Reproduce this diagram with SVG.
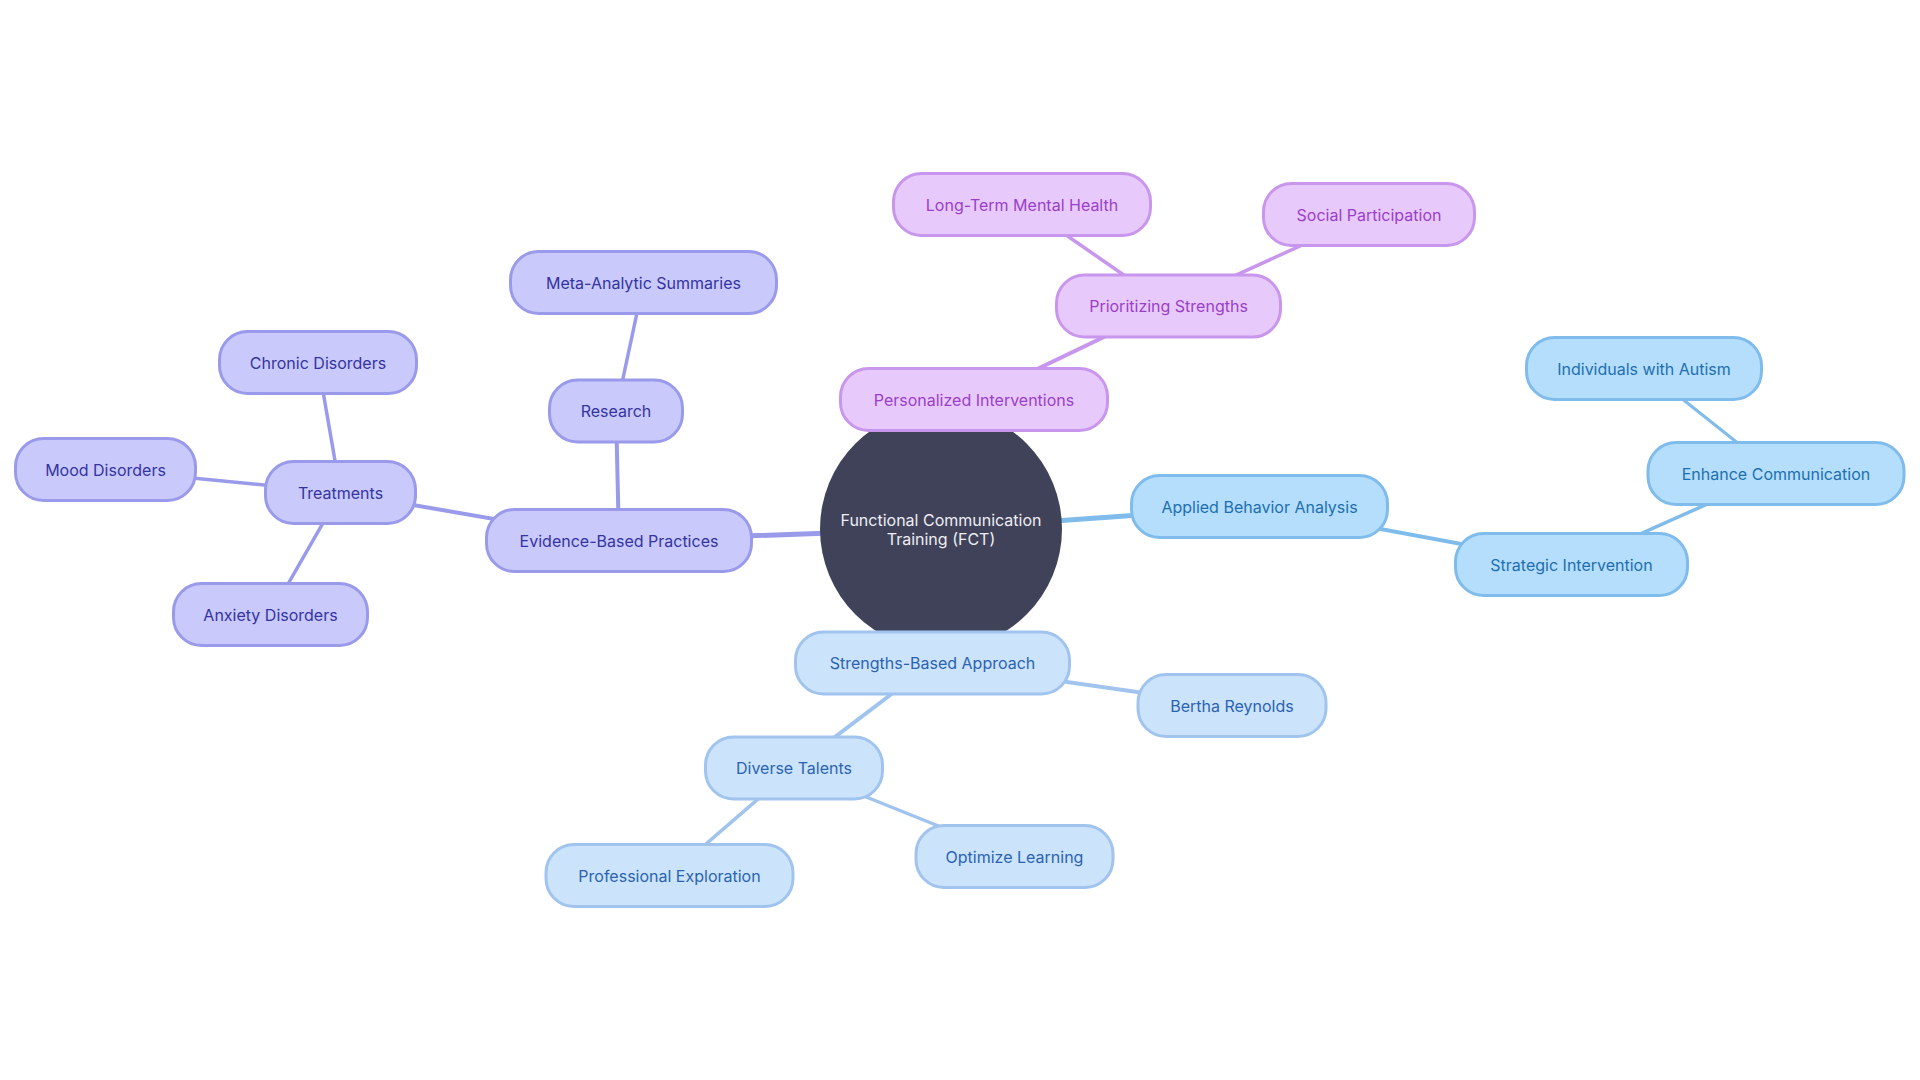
<svg xmlns="http://www.w3.org/2000/svg" width="1920" height="1080" viewBox="0 0 1920 1080">
<style>
text{font-family:Inter,"Noto Sans",sans-serif;font-size:16px;text-anchor:middle;dominant-baseline:central}
.n rect{stroke-width:3}
.a rect{fill:#c9c9fc;stroke:#9a9aeb}.a text{fill:#3434a0}
.b rect{fill:#e8c9fc;stroke:#c896ec}.b text{fill:#9a3fc8}
.c rect{fill:#b4defc;stroke:#7fbcec}.c text{fill:#1e6fb0}
.d rect{fill:#cce3fc;stroke:#a0c4ee}.d text{fill:#2a63b0}
.e line{stroke-linecap:round}
.ea{stroke:#9a9aeb}.eb{stroke:#c896ec}.ec{stroke:#7fbcec}.ed{stroke:#a0c4ee}
.w1{stroke-width:5}.w2{stroke-width:4}.w3{stroke-width:3.5}.w4{stroke-width:3}
</style>
<rect width="1920" height="1080" fill="#ffffff"/>
<g id="connectors" class="e">
<line class="ea w1" x1="941" y1="529" x2="619" y2="540.5"/>
<line class="ea w2" x1="619" y1="540.5" x2="616" y2="411"/>
<line class="ea w3" x1="616" y1="411" x2="643.5" y2="282.5"/>
<line class="ea w2" x1="619" y1="540.5" x2="340.5" y2="492.5"/>
<line class="ea w3" x1="340.5" y1="492.5" x2="318" y2="362.5"/>
<line class="ea w3" x1="340.5" y1="492.5" x2="105.5" y2="469.5"/>
<line class="ea w3" x1="340.5" y1="492.5" x2="270.5" y2="614.5"/>
<line class="eb w1" x1="941" y1="529" x2="974" y2="399.5"/>
<line class="eb w2" x1="974" y1="399.5" x2="1168.5" y2="306"/>
<line class="eb w3" x1="1168.5" y1="306" x2="1022" y2="204.5"/>
<line class="eb w3" x1="1168.5" y1="306" x2="1369" y2="214.5"/>
<line class="ec w1" x1="941" y1="529" x2="1259.5" y2="506.5"/>
<line class="ec w2" x1="1259.5" y1="506.5" x2="1571.5" y2="564.5"/>
<line class="ec w3" x1="1571.5" y1="564.5" x2="1776" y2="473.5"/>
<line class="ec w4" x1="1776" y1="473.5" x2="1644" y2="368.5"/>
<line class="ed w1" x1="941" y1="529" x2="932.5" y2="663"/>
<line class="ed w2" x1="932.5" y1="663" x2="1232" y2="705.5"/>
<line class="ed w2" x1="932.5" y1="663" x2="794" y2="768"/>
<line class="ed w3" x1="794" y1="768" x2="669.5" y2="875.5"/>
<line class="ed w3" x1="794" y1="768" x2="1014.5" y2="856.5"/>
</g>
<g id="root">
<circle cx="941" cy="529" r="121" fill="#404259"/>
<text x="941" y="520" fill="#eeeef4">Functional Communication</text>
<text x="941" y="539" fill="#eeeef4">Training (FCT)</text>
</g>
<g id="evidence" class="n a"><rect x="486.5" y="509.5" width="265" height="62" rx="28"/><text x="619" y="540.5">Evidence-Based Practices</text></g>
<g id="research" class="n a"><rect x="549.5" y="380" width="133" height="62" rx="28"/><text x="616" y="411">Research</text></g>
<g id="meta" class="n a"><rect x="510.5" y="251.5" width="266" height="62" rx="28"/><text x="643.5" y="282.5">Meta-Analytic Summaries</text></g>
<g id="treatments" class="n a"><rect x="265.5" y="461.5" width="150" height="62" rx="28"/><text x="340.5" y="492.5">Treatments</text></g>
<g id="chronic" class="n a"><rect x="219.5" y="331.5" width="197" height="62" rx="28"/><text x="318" y="362.5">Chronic Disorders</text></g>
<g id="mood" class="n a"><rect x="15.5" y="438.5" width="180" height="62" rx="28"/><text x="105.5" y="469.5">Mood Disorders</text></g>
<g id="anxiety" class="n a"><rect x="173.5" y="583.5" width="194" height="62" rx="28"/><text x="270.5" y="614.5">Anxiety Disorders</text></g>
<g id="personalized" class="n b"><rect x="840.5" y="368.5" width="267" height="62" rx="28"/><text x="974" y="399.5">Personalized Interventions</text></g>
<g id="prioritizing" class="n b"><rect x="1056.5" y="275" width="224" height="62" rx="28"/><text x="1168.5" y="306">Prioritizing Strengths</text></g>
<g id="longterm" class="n b"><rect x="893.5" y="173.5" width="257" height="62" rx="28"/><text x="1022" y="204.5">Long-Term Mental Health</text></g>
<g id="social" class="n b"><rect x="1263.5" y="183.5" width="211" height="62" rx="28"/><text x="1369" y="214.5">Social Participation</text></g>
<g id="applied" class="n c"><rect x="1131.5" y="475.5" width="256" height="62" rx="28"/><text x="1259.5" y="506.5">Applied Behavior Analysis</text></g>
<g id="strategic" class="n c"><rect x="1455.5" y="533.5" width="232" height="62" rx="28"/><text x="1571.5" y="564.5">Strategic Intervention</text></g>
<g id="enhance" class="n c"><rect x="1648" y="442.5" width="256" height="62" rx="28"/><text x="1776" y="473.5">Enhance Communication</text></g>
<g id="individuals" class="n c"><rect x="1526.5" y="337.5" width="235" height="62" rx="28"/><text x="1644" y="368.5">Individuals with Autism</text></g>
<g id="strengths" class="n d"><rect x="795.5" y="632" width="274" height="62" rx="28"/><text x="932.5" y="663">Strengths-Based Approach</text></g>
<g id="bertha" class="n d"><rect x="1138" y="674.5" width="188" height="62" rx="28"/><text x="1232" y="705.5">Bertha Reynolds</text></g>
<g id="diverse" class="n d"><rect x="705.5" y="737" width="177" height="62" rx="28"/><text x="794" y="768">Diverse Talents</text></g>
<g id="professional" class="n d"><rect x="546" y="844.5" width="247" height="62" rx="28"/><text x="669.5" y="875.5">Professional Exploration</text></g>
<g id="optimize" class="n d"><rect x="916" y="825.5" width="197" height="62" rx="28"/><text x="1014.5" y="856.5">Optimize Learning</text></g>
</svg>
